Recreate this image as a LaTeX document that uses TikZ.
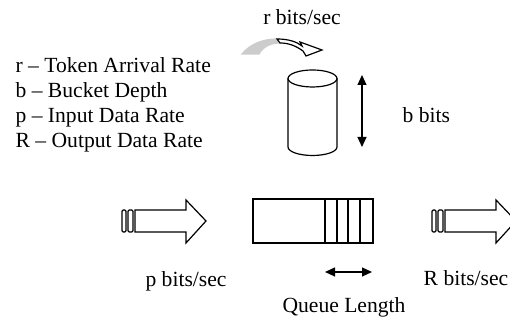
\documentclass[tikz,border=0pt]{standalone}
\usepackage{fontspec}
\setmainfont{Liberation Serif}
\usetikzlibrary{arrows.meta}

\begin{document}
\begin{tikzpicture}[x=0.5pt,y=-0.5pt,line width=0.6pt,
  >={Triangle[length=5pt,width=4.5pt]},
  label text/.style={font=\fontsize{10.8}{12.5}\selectfont,inner sep=0pt},
  stripe/.style={draw,rounded corners=0.6pt},
  flow arrow/.style={draw,fill=white,line join=miter}]
  \useasboundingbox (0,0) rectangle (510,324);
  % legend (base = last line)
  \node[label text,align=left,anchor=base west] (legend) at (15,148)
    {r – Token Arrival Rate\\b – Bucket Depth\\p – Input Data Rate\\R – Output Data Rate};
  % tokens coming in
  \node[label text,anchor=base] (token rate) at (302,25) {r bits/sec};
  \fill[gray!40,draw] (242,54) .. controls (250,44) and (263,39) .. (277,39)
    -- (280,43) .. controls (270,43) and (263,47) .. (259,54) -- cycle;
  \path[flow arrow] (277,39) .. controls (289,39) and (297,42) .. (302,46)
    -- (300,42) -- (322,50) -- (306,56) -- (303,51)
    .. controls (296,46) and (289,43) .. (280,43) -- cycle;
  % bucket
  \draw (288,78.5) -- (288,147) arc[start angle=180,end angle=0,x radius=24.5,y radius=8.5]
    -- (337,78.5);
  \draw (312.5,78.5) ellipse[x radius=24.5,y radius=8.5];
  \coordinate (bucket top) at (362,75);
  \coordinate (bucket bottom) at (362,147);
  \draw[<->] (bucket top) -- (bucket bottom);
  \node[label text,anchor=west] (depth) at (402,115) {b bits};
  % queue
  \draw (253,199) rectangle (373,243);
  \foreach \x in {325,337,348,360}
    \draw (\x,199) -- (\x,243);
  \coordinate (queue left) at (325,272);
  \coordinate (queue right) at (372,272);
  \draw[<->] (queue left) -- (queue right);
  \node[label text,anchor=base] (queue length) at (344,313) {Queue Length};
  % input and output flows
  \foreach \s in {0,310}{
    \begin{scope}[xshift=\s*0.5pt]
      \draw[stripe] (122,210) rectangle (126,232);
      \draw[stripe] (128,210) rectangle (133,232);
      \path[flow arrow] (135,210) -- (186,210) -- (186,200) -- (206,221)
        -- (186,243) -- (186,232) -- (135,232) -- cycle;
    \end{scope}
  }
  \node[label text,anchor=base] (input rate) at (186,287) {p bits/sec};
  \node[label text,anchor=base] (output rate) at (466,286) {R bits/sec};
\end{tikzpicture}
\end{document}
